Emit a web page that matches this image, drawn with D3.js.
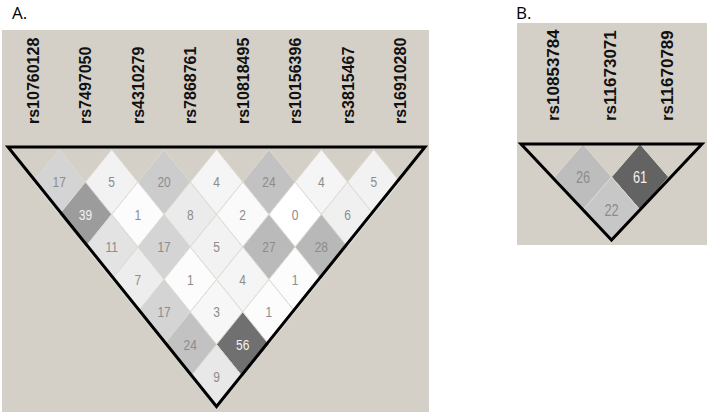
<!DOCTYPE html>
<html>
<head>
<meta charset="utf-8">
<script src="https://cdn.jsdelivr.net/npm/d3@7"></script>
<style>
  html, body { margin: 0; padding: 0; background: #ffffff; }
  svg { display: block; }
</style>
</head>
<body>
<svg id="chart" width="708" height="413"></svg>
<script>
// ---------- DATA ----------
const snpsA = ["rs10760128", "rs7497050", "rs4310279", "rs7868761", "rs10818495", "rs10156396", "rs3815467", "rs16910280"];
// r² ×100 by SNP distance (diagonal 1 = adjacent pairs, ...)
const ldA_d1 = [17, 5, 20, 4, 24, 4, 5];
const ldA_d2 = [39, 1, 8, 2, 0, 6];
const ldA_d3 = [11, 17, 5, 27, 28];
const ldA_d4 = [7, 1, 4, 1];
const ldA_d5 = [17, 3, 1];
const ldA_d6 = [24, 56];
const ldA_d7 = [9];

const snpsB = ["rs10853784", "rs11673071", "rs11670789"];
const ldB_d1 = [26, 61];
const ldB_d2 = [22];

const panelLabels = ["A.", "B."];

// ---------- LAYOUT ----------
const svg = d3.select("#chart");
const BG = "#d4d0c8";

const color = d3.scaleLinear().domain([0, 100]).range(["#ffffff", "#000000"]);

function drawPanel(cfg) {
  const g = svg.append("g");
  // background
  g.append("rect")
    .attr("x", cfg.bg[0]).attr("y", cfg.bg[1])
    .attr("width", cfg.bg[2]).attr("height", cfg.bg[3])
    .attr("fill", BG);

  // panel title
  svg.append("text")
    .attr("x", cfg.title[0]).attr("y", cfg.title[1])
    .attr("font-family", "'Open Sans', 'Liberation Sans', sans-serif")
    .attr("font-size", 17)
    .attr("fill", "#000")
    .text(cfg.label);

  const x = d3.scalePoint().domain(cfg.snps).range(cfg.xRange);
  const n = cfg.snps.length;
  const y = d3.scaleLinear().domain([1, n - 1]).range(cfg.yRange);
  const hw = x.step() / 2;
  const hh = n > 2 ? (y(2) - y(1)) : cfg.hh;

  // SNP labels
  g.selectAll("text.snp").data(cfg.snps).enter().append("text")
    .attr("class", "snp")
    .attr("transform", d => `translate(${x(d) + cfg.labelDx},${cfg.labelBottom}) rotate(-90)`)
    .attr("font-family", "'Liberation Sans', Arial, sans-serif")
    .attr("font-weight", "bold")
    .attr("font-size", cfg.labelSize)
    .attr("fill", "#111")
    .text(d => d);

  // cells
  const cells = [];
  cfg.diags.forEach((arr, di) => {
    const d = di + 1;
    arr.forEach((v, i) => {
      cells.push({ i, j: i + d, d, v });
    });
  });

  const cg = g.selectAll("g.cell").data(cells).enter().append("g")
    .attr("class", "cell")
    .attr("transform", c => `translate(${(x(cfg.snps[c.i]) + x(cfg.snps[c.j])) / 2},${y(c.d)})`);

  cg.append("path")
    .attr("d", `M0,${-hh}L${hw},0L0,${hh}L${-hw},0Z`)
    .attr("fill", c => color(c.v))
    .attr("stroke", "#dedad2")
    .attr("stroke-width", 1);

  cg.append("text")
    .attr("transform", "scale(0.8,1)")
    .attr("text-anchor", "middle")
    .attr("dy", "0.36em")
    .attr("font-family", "'Liberation Sans', Arial, sans-serif")
    .attr("font-size", cfg.numSize)
    .attr("fill", c => c.v >= 35 ? "#f2f2f2" : "#8c8c8c")
    .text(c => c.v);

  // black triangle outline
  const x0 = x(cfg.snps[0]) - cfg.triPad;
  const x1 = x(cfg.snps[n - 1]) + cfg.triPad;
  const top = y(1) - hh - cfg.topOff;
  const apexY = y(n - 1) + hh - cfg.apexOff;
  g.append("path")
    .attr("d", `M${x0},${top}L${x1},${top}L${(x0 + x1) / 2},${apexY}Z`)
    .attr("fill", "none")
    .attr("stroke", "#000")
    .attr("stroke-width", 3)
    .attr("stroke-linejoin", "miter");
}

drawPanel({
  label: panelLabels[0],
  title: [12, 19],
  bg: [2, 30, 427, 382],
  snps: snpsA,
  diags: [ldA_d1, ldA_d2, ldA_d3, ldA_d4, ldA_d5, ldA_d6, ldA_d7],
  xRange: [33, 400],
  yRange: [182, 377],
  labelDx: 6,
  labelBottom: 124,
  labelSize: 16,
  numSize: 15,
  triPad: 25,
  topOff: 2.5,
  apexOff: 3
});

drawPanel({
  label: panelLabels[1],
  title: [516, 19],
  bg: [517, 23, 190, 222],
  snps: snpsB,
  diags: [ldB_d1, ldB_d2],
  xRange: [554.5, 668.5],
  yRange: [177, 210],
  hh: 33,
  labelDx: 4,
  labelBottom: 121,
  labelSize: 17,
  numSize: 16,
  triPad: 33.5,
  topOff: 0,
  apexOff: 3
});
</script>
</body>
</html>
